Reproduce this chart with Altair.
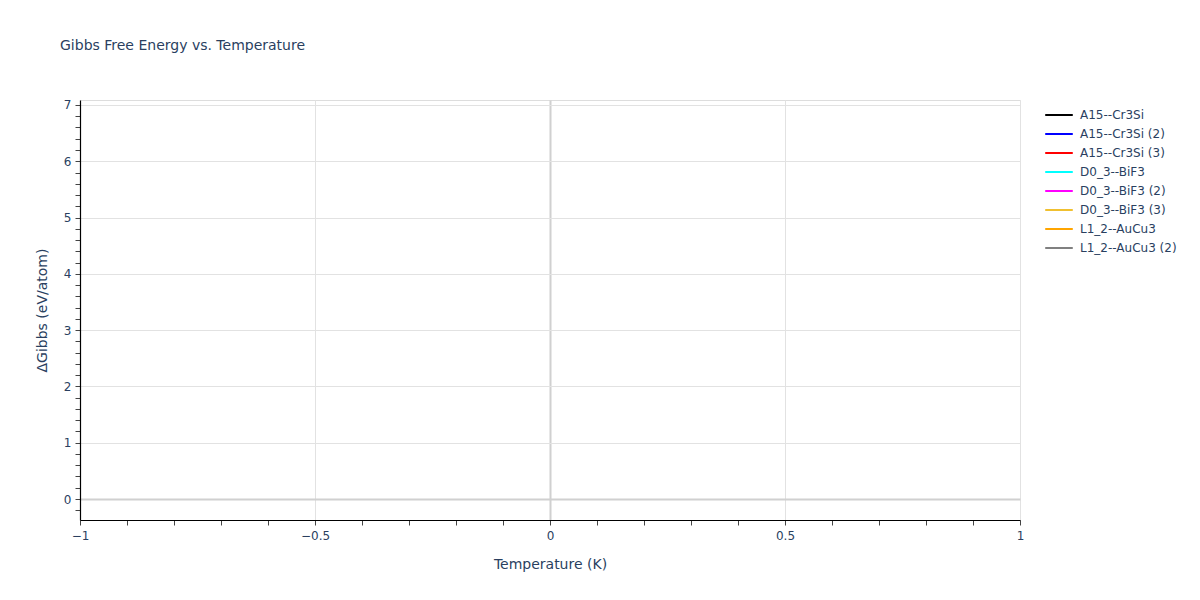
import altair as alt
import pandas as pd

# Series names shown in the legend (no plotted points in the reference)
series = ["A15--Cr3Si", "A15--Cr3Si (2)", "A15--Cr3Si (3)", "D0_3--BiF3",
          "D0_3--BiF3 (2)", "D0_3--BiF3 (3)", "L1_2--AuCu3", "L1_2--AuCu3 (2)"]
colors = ["black", "blue", "red", "cyan", "magenta", "#f0c030", "orange", "gray"]
temperature = [None] * len(series)
gibbs = [None] * len(series)

x_ticks = [round(-1 + 0.1 * i, 1) for i in range(21)]
y_ticks = [round(-0.2 + 0.2 * i, 1) for i in range(37)]

df = pd.DataFrame({"series": series, "T": temperature, "G": gibbs})

FONT = "DejaVu Sans"
TXT = "#2a3f5f"

x_major = "abs(datum.value*2 - round(datum.value*2)) < 1e-6"
y_major = "abs(datum.value - round(datum.value)) < 1e-6"
is_zero = "abs(datum.value) < 1e-6"


def axis(values, major, title_pad, label_pad):
    return alt.Axis(
        values=values, format="~g", labelOverlap=False, labelFlush=False,
        labelExpr=f"{major} ? datum.label : ''",
        tickSize=5, tickColor="#444",
        gridColor={"condition": {"test": is_zero, "value": "#d0d0d0"}, "value": "#e2e2e2"},
        gridWidth={"condition": {"test": is_zero, "value": 2}, "value": 1},
        gridOpacity={"condition": {"test": major, "value": 1}, "value": 0},
        domainColor="black", domainWidth=1.2,
        labelFont=FONT, labelFontSize=12, labelColor=TXT, labelPadding=label_pad,
        titleFont=FONT, titleFontSize=14, titleColor=TXT,
        titleFontWeight="normal", titlePadding=title_pad)


xscale = alt.Scale(domain=[-1, 1], nice=False, zero=False)
yscale = alt.Scale(domain=[-0.373, 7.088], nice=False, zero=False)

chart = alt.Chart(df).mark_line(strokeWidth=2).encode(
    x=alt.X("T:Q", scale=xscale, title="Temperature (K)",
            axis=axis(x_ticks, x_major, 16, 5)),
    y=alt.Y("G:Q", scale=yscale, title="ΔGibbs (eV/atom)",
            axis=axis(y_ticks, y_major, 14, 4)),
    color=alt.Color("series:N", scale=alt.Scale(domain=series, range=colors),
                    legend=alt.Legend(title=None, orient="none", legendX=964, legendY=8,
                                      symbolType="stroke", symbolSize=760,
                                      symbolStrokeWidth=2, rowPadding=5, clipHeight=14,
                                      labelFont=FONT, labelFontSize=12, labelColor=TXT,
                                      labelOffset=6)),
).properties(
    width=940, height=420,
    autosize=alt.AutoSizeParams(type="none"),
    padding={"left": 72, "top": 92, "right": 170, "bottom": 70},
    title=alt.TitleParams("Gibbs Free Energy vs. Temperature", anchor="start",
                          frame="group", font=FONT, fontSize=14, color=TXT,
                          fontWeight="normal", dx=-20, offset=46),
).configure_view(stroke=None).configure(background="white")

chart.save("out.html", embed_options={"renderer": "svg", "actions": False})
